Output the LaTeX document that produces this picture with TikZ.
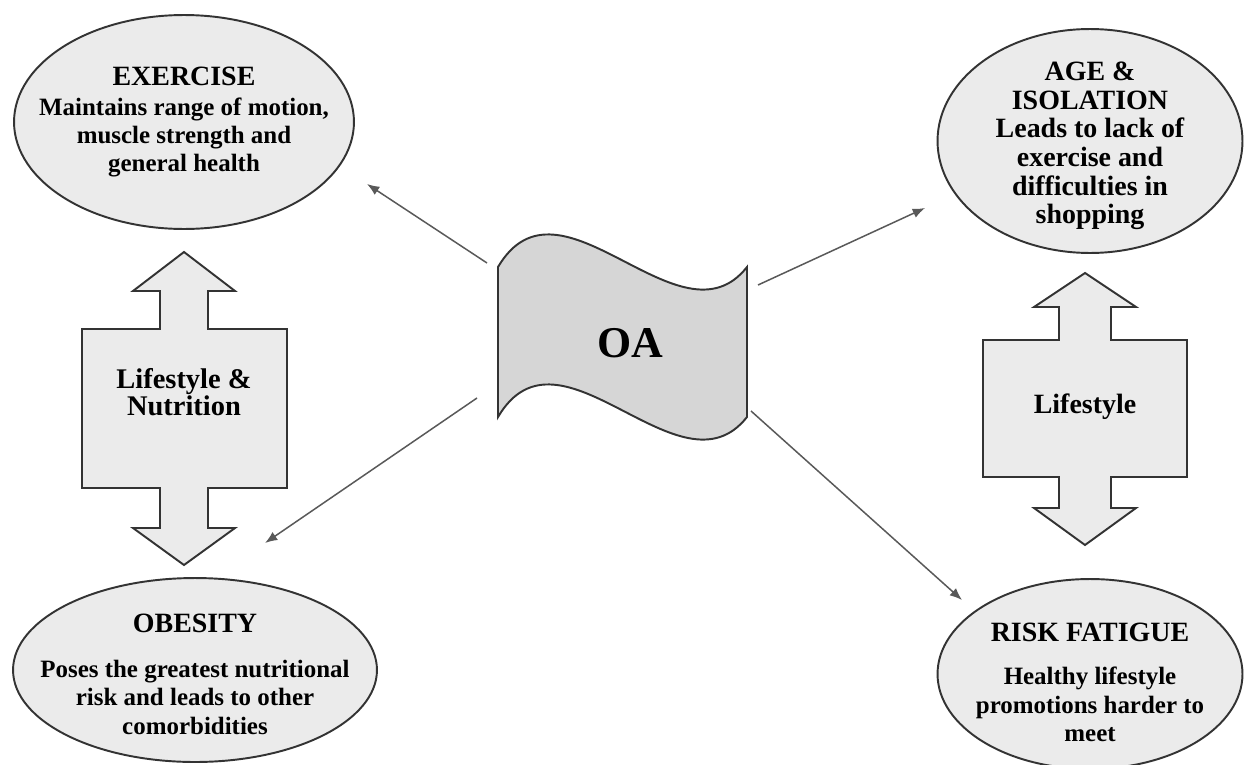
\documentclass[tikz,border=0pt]{standalone}
\usepackage{fontspec}
\setmainfont{Liberation Serif}
\usetikzlibrary{shapes.geometric,arrows.meta}
\definecolor{shade}{HTML}{EBEBEB}
\definecolor{flagshade}{HTML}{D6D6D6}
\definecolor{edge}{HTML}{333333}
\begin{document}
\begin{tikzpicture}[x=.02cm,y=-.02cm,line width=1.1pt,
    blob/.style={draw=edge,fill=shade,ellipse,inner sep=0},
    txt/.style={align=center,inner sep=0,font=\bfseries\fontsize{14.2}{16}\selectfont},
    head/.style={font=\bfseries\fontsize{15.9}{16}\selectfont},
    link/.style={draw=black!65,line width=.85pt,-{Latex[length=7pt,width=5.5pt]}}]
    \path[use as bounding box,fill=white] (0,0) rectangle (1246,764);
    \node[blob,minimum width=6.8cm,minimum height=4.28cm] (exercise) at (184,122) {};
    \node[blob,minimum width=6.1cm,minimum height=4.48cm] (age) at (1090,141) {};
    \node[blob,minimum width=7.28cm,minimum height=3.68cm] (obesity) at (195,670) {};
    \node[blob,minimum width=6.1cm,minimum height=3.8cm] (fatigue) at (1090,674) {};
    \node[txt] (exercise-t) at (exercise) {{\fontsize{15.9}{16}\selectfont EXERCISE}\\[1.5pt]
        Maintains range of motion,\\ muscle strength and\\ general health};
    \node[txt,font=\bfseries\fontsize{15.9}{16.3}\selectfont] (age-t) at (1090,146) {AGE \&\\ ISOLATION\\
        Leads to lack of\\ exercise and\\ difficulties in\\ shopping};
    \node[txt] (obesity-t) at (195,674) {{\fontsize{15.9}{16}\selectfont OBESITY}\\[10pt]
        Poses the greatest nutritional\\ risk and leads to other\\ comorbidities};
    \node[txt] (fatigue-t) at (1090,682) {{\fontsize{15.9}{16}\selectfont RISK FATIGUE}\\[9pt]
        Healthy lifestyle\\ promotions harder to\\ meet};
    \draw[draw=edge,fill=shade,line join=miter] (184,252) -- (235,291) -- (208,291) -- (208,329)
        -- (287,329) -- (287,488) -- (208,488) -- (208,528) -- (235,528) -- (184,565)
        -- (133,528) -- (160,528) -- (160,488) -- (82,488) -- (82,329) -- (160,329)
        -- (160,291) -- (133,291) -- cycle;
    \draw[draw=edge,fill=shade,line join=miter] (1085,273) -- (1136,307) -- (1111,307) -- (1111,340)
        -- (1187,340) -- (1187,477) -- (1111,477) -- (1111,508) -- (1136,508) -- (1085,545)
        -- (1034,508) -- (1059,508) -- (1059,477) -- (983,477) -- (983,340) -- (1059,340)
        -- (1059,307) -- (1034,307) -- cycle;
    \node[txt,font=\bfseries\fontsize{16.2}{15.5}\selectfont] (nutrition) at (184,392) {Lifestyle \&\\ Nutrition};
    \node[txt,font=\bfseries\fontsize{15.9}{16}\selectfont] (lifestyle) at (1085,407) {Lifestyle};
    \draw[draw=edge,fill=flagshade] (498,267) .. controls (560,162) and (680,352) .. (747,267)
        -- (747,417) .. controls (680,502) and (560,312) .. (498,417) -- cycle;
    \node[txt,font=\bfseries\fontsize{25}{25}\selectfont] (oa) at (630,343) {OA};
    \coordinate (oa-nw) at (487,263);
    \coordinate (oa-ne) at (758,285);
    \coordinate (oa-sw) at (477,398);
    \coordinate (oa-se) at (751,411);
    \coordinate (exercise-in) at (367,184);
    \coordinate (age-in) at (925,208);
    \coordinate (obesity-in) at (265,543);
    \coordinate (fatigue-in) at (962,600);
    \draw[link] (oa-nw) -- (exercise-in);
    \draw[link] (oa-ne) -- (age-in);
    \draw[link] (oa-sw) -- (obesity-in);
    \draw[link] (oa-se) -- (fatigue-in);
\end{tikzpicture}
\end{document}
